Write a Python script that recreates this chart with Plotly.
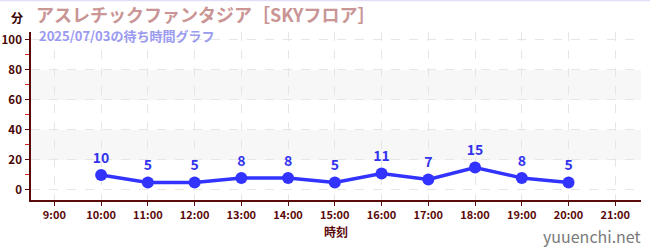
import plotly.graph_objects as go

hours = [10, 11, 12, 13, 14, 15, 16, 17, 18, 19, 20]
waits = [10, 5, 5, 8, 8, 5, 11, 7, 15, 8, 5]
tick_hours = list(range(9, 22))
tick_labels = [f"{h}:00" for h in tick_hours]
y_ticks = [0, 20, 40, 60, 80, 100]
title_text = "アスレチックファンタジア［SKYフロア］"
subtitle_text = "2025/07/03の待ち時間グラフ"

font = "Noto Sans CJK JP"
axis_col = "#5a0a0a"

fig = go.Figure()
fig.add_trace(go.Scatter(
    x=hours, y=waits, mode="lines+markers+text",
    line=dict(color="#3333ff", width=3.5),
    marker=dict(color="#3333ff", size=12),
    text=[str(v) for v in waits], textposition="top center",
    textfont=dict(color="#3333ee", size=14, family=font, weight="bold"),
    cliponaxis=False, hoverinfo="skip"))

for lo, hi in [(20, 40), (60, 80)]:
    fig.add_shape(type="rect", xref="paper", yref="y", x0=0, x1=1, y0=lo, y1=hi,
                  fillcolor="#f7f7f7", line=dict(width=0), layer="below")

fig.add_shape(type="line", xref="paper", yref="paper", x0=-1, x1=2, y0=1.187, y1=1.187,
              line=dict(color="#e0e0f8", width=1.5))

fig.update_layout(
    width=650, height=250, margin=dict(l=31, r=9, t=32, b=50, autoexpand=False),
    paper_bgcolor="white", plot_bgcolor="white", showlegend=False,
    font=dict(family=font, color=axis_col),
    xaxis=dict(range=[8.5, 21.55], tickvals=tick_hours, ticktext=tick_labels,
               showline=True, linecolor=axis_col, linewidth=1.5,
               ticks="outside", ticklen=4, tickcolor=axis_col,
               tickfont=dict(size=11, color=axis_col, family=font, weight="bold"),
               showgrid=True, gridcolor="#e6e6e6", griddash="dash", gridwidth=1,
               zeroline=False, fixedrange=True, automargin=False,
               title=dict(text="時刻", font=dict(size=12, color=axis_col, family=font, weight="bold"), standoff=8)),
    yaxis=dict(range=[-6.7, 105.3], tickvals=y_ticks, ticktext=[str(v) for v in y_ticks],
               showline=True, linecolor=axis_col, linewidth=1.5,
               ticks="outside", ticklen=4, tickcolor=axis_col,
               tickfont=dict(size=11.5, color="#4a0505", family=font, weight="bold"),
               ticklabelstandoff=1,
               minor=dict(tickvals=[10, 30, 50, 70, 90], ticks="outside", ticklen=4,
                          tickcolor="#dd2222", showgrid=False),
               showgrid=True, gridcolor="#e6e6e6", griddash="dash", gridwidth=1,
               zeroline=False, fixedrange=True, automargin=False, title=dict(text="")),
)

fig.add_annotation(text=title_text, xref="paper", yref="paper", x=0.0, y=1.0,
                   xshift=4, yshift=32, xanchor="left", yanchor="top", showarrow=False,
                   borderpad=0, height=25, valign="middle",
                   font=dict(size=18, color="#c99595", family=font, weight="bold"))
fig.add_annotation(text=subtitle_text, xref="paper", yref="paper", x=0.0, y=1.0,
                   xshift=7, yshift=8, xanchor="left", yanchor="top", showarrow=False,
                   borderpad=0, height=20, valign="middle",
                   font=dict(size=13, color="#9a9af0", family=font, weight="bold"))
fig.add_annotation(text="分", xref="paper", yref="paper", x=0, y=1.0, xshift=-22,
                   yshift=25, xanchor="left", yanchor="top", showarrow=False,
                   font=dict(size=12, color="#3a0505", family=font, weight="bold"))
fig.add_annotation(text="yuuenchi.net", xref="paper", yref="paper", x=1, y=0,
                   xshift=2, yshift=-50, xanchor="right", yanchor="bottom", showarrow=False,
                   font=dict(size=16, color="#7a7a7a", family=font))

fig.write_html("out.html")
